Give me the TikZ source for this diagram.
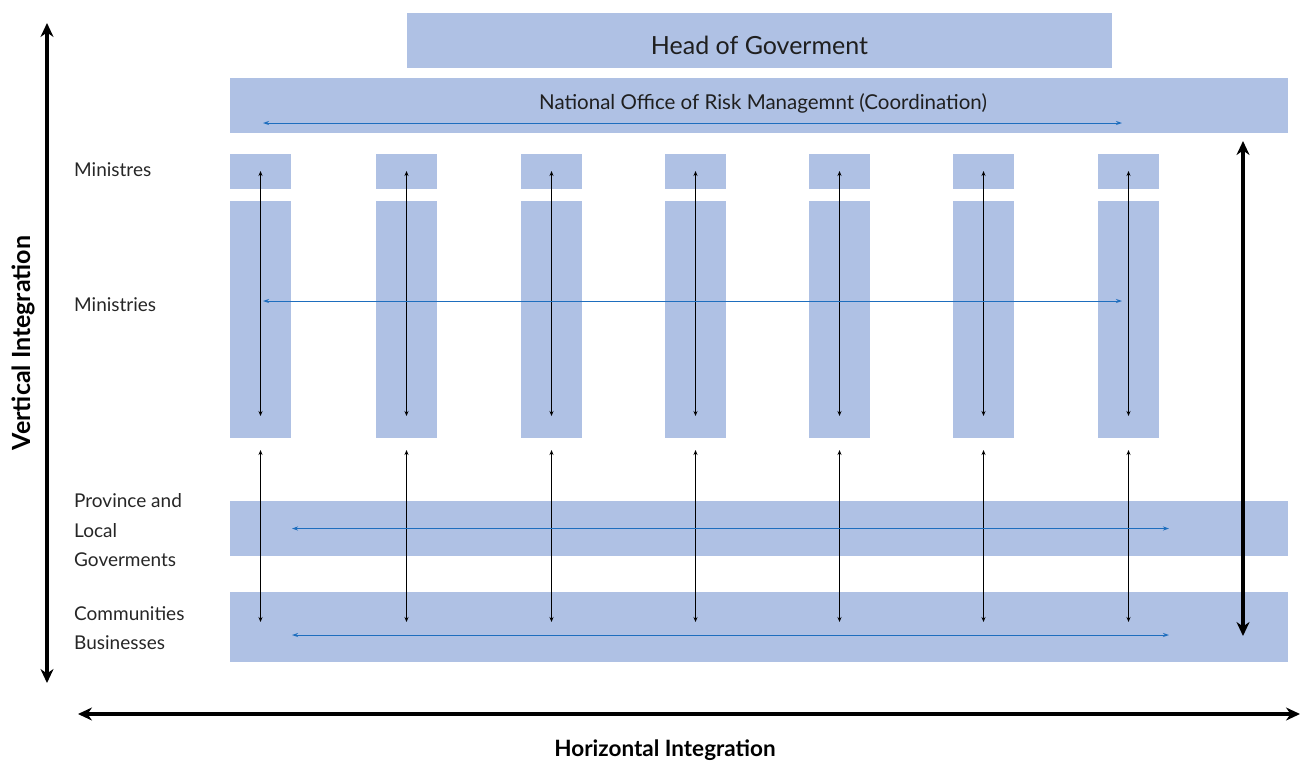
\documentclass[tikz,border=0pt]{standalone}
\usepackage{fontspec}
\setmainfont{Lato}
\usetikzlibrary{arrows.meta,calc}
\definecolor{boxfill}{RGB}{175,193,228}
\definecolor{harrow}{RGB}{30,110,190}
\tikzset{
  box/.style={fill=boxfill, draw=none, inner sep=0pt, outer sep=0pt},
  varrow/.style={black, line width=0.9pt, {Stealth[length=5pt,width=4pt]}-{Stealth[length=5pt,width=4pt]}},
  hblue/.style={harrow, line width=1pt, {Stealth[length=6pt,width=4pt]}-{Stealth[length=6pt,width=4pt]}},
  thick arrow/.style={black, line width=4.5pt, {Stealth[length=14pt,width=13pt]}-{Stealth[length=14pt,width=13pt]}},
  lbl/.style={anchor=west, inner sep=0pt, font=\fontsize{19}{22}\selectfont, text=black!85},
  axis/.style={inner sep=0pt}
}
\begin{document}
\begin{tikzpicture}[x=1pt,y=-1pt]
\useasboundingbox (0,0) rectangle (1301,764);
% top boxes
\node[box, minimum width=705pt, minimum height=55pt, anchor=north west] (head) at (407,13) {};
\node[inner sep=0pt, font=\fontsize{25}{29}\selectfont, text=black!88] (headtext) at (759.5,45) {Head of Goverment};
\node[box, minimum width=1058pt, minimum height=55pt, anchor=north west] (nat) at (230,78) {};
\node[inner sep=0pt, font=\fontsize{20.5}{24}\selectfont, text=black!88] (nattext) at (763,103) {National Office of Risk Managemnt (Coordination)};
\coordinate (natL) at (263,123);
\coordinate (natR) at (1122,123);
\draw[hblue] (natL) -- (natR);
% columns
\foreach \i/\x in {1/230,2/376,3/521,4/665,5/809,6/953,7/1098}{
  \node[box, minimum width=61pt, minimum height=35pt, anchor=north west] (mn\i) at (\x,154) {};
  \node[box, minimum width=61pt, minimum height=237pt, anchor=north west] (my\i) at (\x,201) {};
}
% row boxes
\node[box, minimum width=1058pt, minimum height=55pt, anchor=north west] (prov) at (230,501) {};
\node[box, minimum width=1058pt, minimum height=70pt, anchor=north west] (comm) at (230,592) {};
% vertical arrows
\foreach \i in {1,...,7}{
  \draw[varrow] ($(mn\i.north)+(0,17)$) -- ($(my\i.south)+(0,-22)$);
  \draw[varrow] ($(my\i.south)+(0,12)$) -- ($(comm.north -| my\i.south)+(0,30)$);
}
% horizontal blue arrows
\coordinate (minL) at (263,301);
\coordinate (minR) at (1122,301);
\draw[hblue] (minL) -- (minR);
\draw[hblue] ($(prov.west)+(62,0)$) -- ($(prov.west)+(939,0)$);
\draw[hblue] ($(comm.west)+(62,8)$) -- ($(comm.west)+(939,8)$);
% labels
\node[lbl] (l1) at (74,170) {Ministres};
\node[lbl] (l2) at (74,305) {Ministries};
\node[lbl] (l3) at (74,501) {Province and};
\node[lbl] (l4) at (74,531) {Local};
\node[lbl] (l5) at (74,560) {Goverments};
\node[lbl] (l6) at (74,614) {Communities};
\node[lbl] (l7) at (74,643) {Businesses};
% thick arrows
\coordinate (vt) at (47,23);
\coordinate (vb) at (47,683);
\draw[thick arrow] (vt) -- (vb);
\coordinate (rt) at (1243,141);
\coordinate (rb) at (1243,636);
\draw[thick arrow] (rt) -- (rb);
\coordinate (hl) at (78,714);
\coordinate (hr) at (1300,714);
\draw[thick arrow] (hl) -- (hr);
\node[axis, rotate=90, font=\fontsize{25}{29}\selectfont\bfseries] (vlab) at (23,343) {Vertical Integration};
\node[axis, font=\fontsize{22.5}{26}\selectfont\bfseries] (hlab) at (665,750) {Horizontal Integration};
\end{tikzpicture}
\end{document}
